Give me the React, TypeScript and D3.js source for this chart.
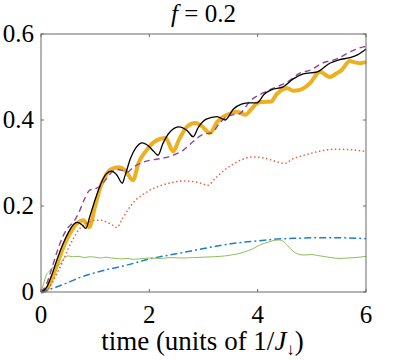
import React, { useEffect, useRef } from 'react';
import * as d3 from 'd3';

// values, [time, value]
const blackSeries: [number, number][] = [
  [0, 0], [0.1, 0.01], [0.2, 0.04], [0.3, 0.077], [0.4, 0.11], [0.5, 0.137], [0.6, 0.157],
  [0.67, 0.162], [0.75, 0.157], [0.83, 0.148], [0.9, 0.175], [1.0, 0.215], [1.1, 0.25],
  [1.2, 0.274], [1.3, 0.281], [1.4, 0.272], [1.5, 0.253], [1.55, 0.27], [1.65, 0.31],
  [1.75, 0.335], [1.87, 0.347], [1.98, 0.34], [2.08, 0.327], [2.16, 0.318], [2.25, 0.345],
  [2.38, 0.372], [2.55, 0.384], [2.7, 0.375], [2.81, 0.361], [2.9, 0.382], [3.05, 0.402],
  [3.25, 0.408], [3.4, 0.4], [3.55, 0.425], [3.7, 0.437], [3.85, 0.44], [3.99, 0.44],
  [4.12, 0.46], [4.25, 0.47], [4.47, 0.477], [4.65, 0.495], [4.84, 0.507], [5.1, 0.512],
  [5.33, 0.532], [5.5, 0.54], [5.7, 0.545], [5.85, 0.552], [6.0, 0.565],
];

const yellowSeries: [number, number][] = [
  [0, 0], [0.1, 0.005], [0.2, 0.03], [0.3, 0.065], [0.4, 0.1], [0.5, 0.128], [0.6, 0.15],
  [0.7, 0.163], [0.78, 0.167], [0.89, 0.151], [1.0, 0.2], [1.1, 0.245], [1.2, 0.272],
  [1.3, 0.286], [1.44, 0.29], [1.55, 0.283], [1.7, 0.26], [1.8, 0.3], [1.95, 0.33],
  [2.1, 0.35], [2.3, 0.358], [2.44, 0.327], [2.55, 0.355], [2.7, 0.385], [2.84, 0.393],
  [2.95, 0.388], [3.12, 0.37], [3.25, 0.395], [3.36, 0.407], [3.5, 0.415], [3.62, 0.419],
  [3.77, 0.412], [3.9, 0.428], [4.0, 0.44], [4.1, 0.442], [4.25, 0.443], [4.35, 0.46],
  [4.47, 0.472], [4.55, 0.474], [4.65, 0.468], [4.78, 0.47], [4.97, 0.486], [5.15, 0.512],
  [5.33, 0.5], [5.45, 0.508], [5.55, 0.516], [5.7, 0.537], [5.8, 0.534], [5.89, 0.532],
  [6.0, 0.535],
];

const purpleSeries: [number, number][] = [
  [0, 0], [0.1, 0.018], [0.2, 0.055], [0.3, 0.095], [0.4, 0.128], [0.5, 0.15], [0.6, 0.163],
  [0.7, 0.185], [0.8, 0.215], [0.9, 0.237], [1.0, 0.24], [1.1, 0.247], [1.2, 0.262],
  [1.3, 0.278], [1.4, 0.285], [1.5, 0.283], [1.6, 0.279], [1.7, 0.29], [1.85, 0.3],
  [2.0, 0.306], [2.2, 0.31], [2.44, 0.318], [2.63, 0.33], [2.81, 0.35], [3.0, 0.367],
  [3.15, 0.37], [3.3, 0.393], [3.46, 0.41], [3.67, 0.415], [3.86, 0.444], [4.1, 0.463],
  [4.35, 0.477], [4.54, 0.488], [4.78, 0.509], [4.97, 0.516], [5.19, 0.532], [5.46, 0.542],
  [5.7, 0.558], [5.95, 0.57], [6.0, 0.571],
];

const redSeries: [number, number][] = [
  [0, 0], [0.1, 0.003], [0.2, 0.02], [0.3, 0.045], [0.4, 0.07], [0.5, 0.1], [0.6, 0.125],
  [0.7, 0.145], [0.8, 0.157], [0.9, 0.163], [1.0, 0.167], [1.1, 0.167], [1.2, 0.163],
  [1.3, 0.157], [1.4, 0.15], [1.5, 0.17], [1.6, 0.19], [1.75, 0.214], [1.9, 0.228],
  [2.0, 0.236], [2.2, 0.247], [2.4, 0.254], [2.6, 0.258], [2.8, 0.257], [2.95, 0.253],
  [3.08, 0.248], [3.2, 0.262], [3.4, 0.285], [3.6, 0.301], [3.8, 0.312], [3.95, 0.314],
  [4.1, 0.312], [4.3, 0.305], [4.5, 0.299], [4.65, 0.31], [4.8, 0.316], [5.0, 0.323],
  [5.2, 0.329], [5.45, 0.332], [5.7, 0.331], [6.0, 0.327],
];

const blueSeries: [number, number][] = [
  [0, 0], [0.25, 0.01], [0.5, 0.022], [0.75, 0.035], [1.0, 0.045], [1.25, 0.053],
  [1.5, 0.06], [1.75, 0.068], [2.0, 0.077], [2.25, 0.083], [2.5, 0.089], [2.75, 0.095],
  [3.0, 0.101], [3.25, 0.107], [3.5, 0.112], [3.75, 0.116], [4.0, 0.119], [4.25, 0.122],
  [4.5, 0.124], [4.75, 0.125], [5.0, 0.126], [5.5, 0.126], [6.0, 0.124],
];

const greenSeries: [number, number][] = [
  [0, 0], [0.05, 0.02], [0.1, 0.04], [0.15, 0.048], [0.2, 0.055], [0.28, 0.06], [0.35, 0.065],
  [0.42, 0.078], [0.5, 0.084], [0.58, 0.082], [0.7, 0.083], [0.8, 0.08], [0.9, 0.082],
  [1.0, 0.081], [1.1, 0.079], [1.2, 0.081], [1.3, 0.079], [1.4, 0.078], [1.5, 0.077],
  [1.6, 0.078], [1.7, 0.076], [1.8, 0.077], [1.9, 0.078], [2.0, 0.079], [2.2, 0.078],
  [2.4, 0.08], [2.6, 0.079], [2.8, 0.08], [3.0, 0.081], [3.2, 0.082], [3.4, 0.084],
  [3.6, 0.088], [3.75, 0.093], [3.9, 0.1], [4.05, 0.11], [4.2, 0.116], [4.3, 0.12],
  [4.4, 0.121], [4.47, 0.118], [4.55, 0.108], [4.65, 0.095], [4.75, 0.088], [4.85, 0.086],
  [5.0, 0.087], [5.1, 0.085], [5.2, 0.083], [5.35, 0.08], [5.5, 0.078], [5.65, 0.079],
  [5.8, 0.08], [6.0, 0.083],
];

const xTicks = [0, 2, 4, 6];
const yTicks = [0, 0.2, 0.4, 0.6];

const W = 407;
const H = 360;
const margin = { top: 34, right: 41, bottom: 68, left: 41 };
const FONT = 'Liberation Serif';

const App = () => {
  const ref = useRef<SVGSVGElement>(null);

  useEffect(() => {
    const root = d3.select(ref.current);
    root.selectAll('*').remove();

    const w = W - margin.left - margin.right;
    const h = H - margin.top - margin.bottom;

    const x = d3.scaleLinear().domain([0, 6]).range([0, w]);
    const y = d3.scaleLinear().domain([0, 0.6]).range([h, 0]);

    const svg = root
      .append('g')
      .attr('transform', `translate(${margin.left},${margin.top})`)
      .attr('font-family', FONT)
      .attr('fill', '#000');

    const line = d3
      .line<[number, number]>()
      .x(d => x(d[0]))
      .y(d => y(d[1]))
      .curve(d3.curveMonotoneX);

    const plot = svg.append('g');
    const draw = (data: [number, number][], color: string, width: number, dash?: string) => {
      const p = plot
        .append('path')
        .datum(data)
        .attr('fill', 'none')
        .attr('stroke', color)
        .attr('stroke-width', width)
        .attr('stroke-linejoin', 'round')
        .attr('d', line);
      if (dash) p.attr('stroke-dasharray', dash);
    };

    draw(yellowSeries, '#EDB120', 4);
    draw(redSeries, '#E5643A', 1.5, '1.5,2.5');
    draw(blueSeries, '#1A7FCB', 1.5, '7,3,2,3');
    draw(greenSeries, '#8DBE5A', 1);
    draw(purpleSeries, '#8E44A0', 1.4, '6,4');
    draw(blackSeries, '#000', 1.3);

    // box and inward ticks
    const axisColor = '#6b6b6b';
    svg
      .append('rect')
      .attr('x', 0)
      .attr('y', 0)
      .attr('width', w)
      .attr('height', h)
      .attr('fill', 'none')
      .attr('stroke', axisColor)
      .attr('stroke-width', 1);

    const tl = 3;
    xTicks.forEach(t => {
      svg.append('line').attr('x1', x(t)).attr('x2', x(t)).attr('y1', h).attr('y2', h - tl).attr('stroke', axisColor);
      svg.append('line').attr('x1', x(t)).attr('x2', x(t)).attr('y1', 0).attr('y2', tl).attr('stroke', axisColor);
    });
    yTicks.forEach(t => {
      svg.append('line').attr('x1', 0).attr('x2', tl).attr('y1', y(t)).attr('y2', y(t)).attr('stroke', axisColor);
      svg.append('line').attr('x1', w).attr('x2', w - tl).attr('y1', y(t)).attr('y2', y(t)).attr('stroke', axisColor);
    });

    // tick labels
    svg
      .selectAll('.xl')
      .data(xTicks)
      .enter()
      .append('text')
      .attr('x', d => x(d))
      .attr('y', h + 31)
      .attr('text-anchor', 'middle')
      .attr('font-size', 25)
      .text(d => String(d));

    svg
      .selectAll('.yl')
      .data(yTicks)
      .enter()
      .append('text')
      .attr('x', -7)
      .attr('y', d => y(d) + 8)
      .attr('text-anchor', 'end')
      .attr('font-size', 25)
      .text(d => (d === 0 ? '0' : d.toFixed(1)));

    // x label
    const xl = svg
      .append('text')
      .attr('x', w / 2 - 1)
      .attr('y', h + 58)
      .attr('text-anchor', 'middle')
      .attr('font-size', 27);
    xl.append('tspan').text('time (units of 1/');
    xl.append('tspan').attr('font-style', 'italic').text('J');
    xl.append('tspan').attr('dy', 5).attr('font-size', 17).text('↓');
    xl.append('tspan').attr('dy', -5).text(')');

    // title
    const title = svg
      .append('text')
      .attr('x', w / 2)
      .attr('y', -12)
      .attr('text-anchor', 'middle')
      .attr('font-size', 25);
    title.append('tspan').attr('font-style', 'italic').text('f');
    title.append('tspan').text(' = 0.2');
  }, []);

  return (
    <svg
      ref={ref}
      width={W}
      height={H}
      style={{ position: 'absolute', left: 0, top: 0, background: '#fff' }}
    />
  );
};

export default App;
